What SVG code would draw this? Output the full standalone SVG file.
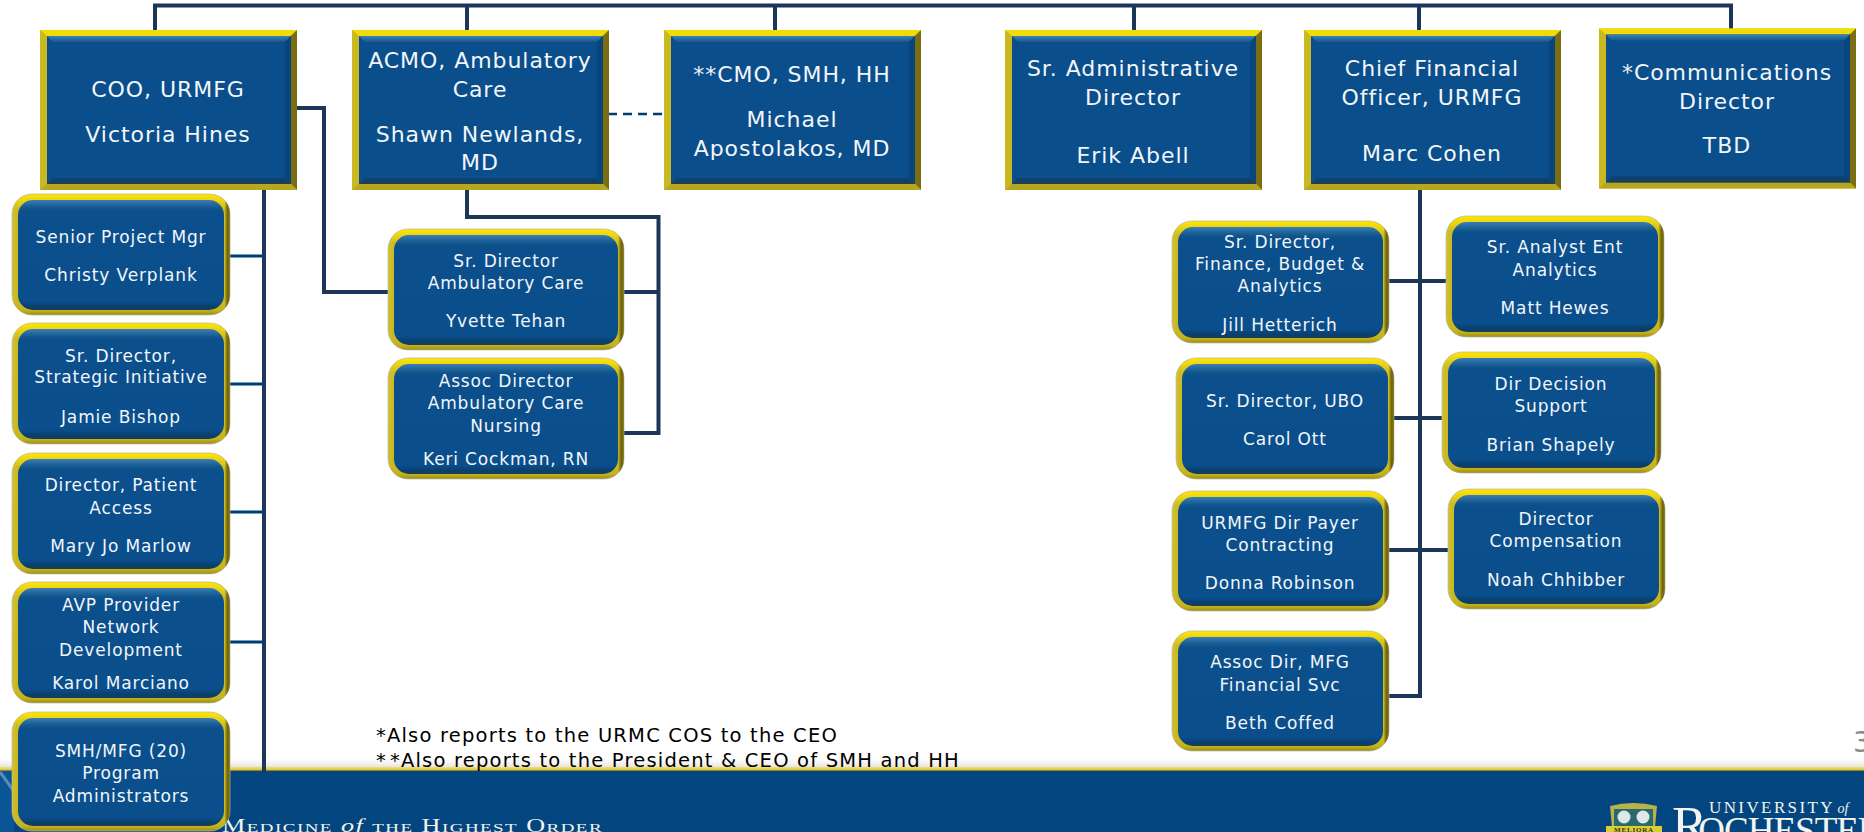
<svg xmlns="http://www.w3.org/2000/svg" width="1864" height="832" viewBox="0 0 1864 832">
<defs>
<linearGradient id="gold" x1="0" y1="0" x2="0" y2="1"><stop offset="0" stop-color="#ffe600"/><stop offset=".05" stop-color="#ecd612"/><stop offset=".12" stop-color="#cdbb22"/><stop offset=".9" stop-color="#c9b81e"/><stop offset=".96" stop-color="#c4b31c"/><stop offset="1" stop-color="#9c8e18"/></linearGradient>
<linearGradient id="side" x1="0" y1="0" x2="1" y2="0"><stop offset="0" stop-color="#fff" stop-opacity=".1"/><stop offset=".02" stop-color="#fff" stop-opacity="0"/><stop offset=".975" stop-color="#000" stop-opacity="0"/><stop offset=".99" stop-color="#2a2400" stop-opacity=".6"/><stop offset="1" stop-color="#2a2400" stop-opacity=".35"/></linearGradient>
<linearGradient id="blue" x1="0" y1="0" x2="0" y2="1"><stop offset="0" stop-color="#3a7cb8"/><stop offset=".07" stop-color="#14598f"/><stop offset=".1" stop-color="#0b4f8c"/><stop offset=".92" stop-color="#0a4e8b"/><stop offset=".97" stop-color="#083f70"/><stop offset="1" stop-color="#1d3d4e"/></linearGradient>
<linearGradient id="hi" x1="0" y1="0" x2="0" y2="1"><stop offset="0" stop-color="#3f80ba"/><stop offset="1" stop-color="#14598f"/></linearGradient>
<linearGradient id="lo" x1="0" y1="0" x2="0" y2="1"><stop offset="0" stop-color="#08427a"/><stop offset="1" stop-color="#1e3f4e"/></linearGradient>
<linearGradient id="fade" x1="0" y1="0" x2="0" y2="1"><stop offset="0" stop-color="#f2eeee" stop-opacity="0"/><stop offset="1" stop-color="#e4dfdc"/></linearGradient>
<linearGradient id="rule" x1="0" y1="0" x2="0" y2="1"><stop offset="0" stop-color="#efe07a"/><stop offset=".6" stop-color="#e6cf3c"/><stop offset="1" stop-color="#6c6a2a"/></linearGradient>
<g id="sq">
<rect width="257" height="160" fill="#c9b81f"/>
<path d="M0 0H257L250 6H7Z" fill="#f2dc06"/>
<path d="M257 0V160L251 154V6Z" fill="#7a6d12"/>
<path d="M0 160H257L251 154H7Z" fill="#b7a71e"/>
<rect x="7" y="6" width="244" height="148" fill="#0a4e8b"/>
<path d="M7 6H251L245 12H13Z" fill="url(#hi)"/>
<path d="M251 6L245 12V148L251 154Z" fill="#08457d"/>
<path d="M7 154H251L245 148H13Z" fill="url(#lo)"/>
</g>
</defs>
<style>
text{font-family:"DejaVu Sans","Liberation Sans",sans-serif;fill:#f2f6fa;text-anchor:middle}
.o{fill:url(#gold);stroke:#b8b4a0;stroke-width:.7}
.s{fill:url(#side)}
.i{fill:url(#blue)}
.big{font-size:22px;letter-spacing:.95px}
.sm{font-size:17px;letter-spacing:.85px}
.c{fill:none;stroke:#1b3656;stroke-width:4}
.b{fill:none;stroke:#003d73;stroke-width:3}
.note{font-size:19.5px;letter-spacing:1.2px;fill:#000;text-anchor:start}
.ser{font-family:"Liberation Serif",serif;fill:#f4f4ee;text-anchor:start}
</style>
<rect width="1864" height="832" fill="#fff"/>
<g id="footer">
<rect x="0" y="758" width="1864" height="10" fill="url(#fade)"/>
<rect x="0" y="767" width="1864" height="65" fill="#03467f"/>
<rect x="0" y="767" width="1864" height="4" fill="url(#rule)"/>
<path d="M0 771H14V832H0Z" fill="#0a5596"/>
<path d="M0 772L13 790" fill="none" stroke="#5d8db5" stroke-width="3"/>
<text class="ser" x="222" y="832" textLength="381" lengthAdjust="spacingAndGlyphs" style="font-size:18px;letter-spacing:1px;font-variant:small-caps">Medicine <tspan font-style="italic" style="font-variant:normal">of</tspan> the Highest Order</text>
<g id="crest"><path d="M1610 806Q1633 800 1657 806L1655 827H1612Z" fill="#b9b24a"/><rect x="1614" y="809" width="39" height="18" fill="#2a6a6a"/><circle cx="1624" cy="817" r="6.500" fill="#dfe8e8"/><circle cx="1643" cy="817" r="6.500" fill="#dfe8e8"/><rect x="1606" y="826" width="56" height="6" fill="#d8d030"/><text x="1634" y="832" style="font-family:'Liberation Serif',serif;font-size:7px;font-weight:bold;letter-spacing:.8px;fill:#35371a">MELIORA</text></g>
<text class="ser" x="1709" y="813" style="font-size:17px;letter-spacing:2.400px">UNIVERSITY<tspan font-style="italic" font-size="14" dx="-1" style="letter-spacing:0"> of</tspan></text>
<text class="ser" x="1672" y="843" style="font-size:53px;font-variant:small-caps;letter-spacing:-1px">R<tspan dx="-8">ochester</tspan></text>
</g>
<text x="1853" y="752" style="text-anchor:start;font-size:29px;fill:#8a8a8a">3</text>
<g id="connectors">
<path class="c" d="M155 30V5.500H1731V30M467 5.500V30M775 5.500V30M1134 5.500V30M1419 5.500V30"/>
<path class="c" d="M264 190V772"/>
<path class="b" d="M230 256H266M230 384H264M230 512H264M230 642H264"/>
<path class="c" d="M296 108H324V292H388"/>
<path class="c" d="M467 190V217H658.500V433H622M624 292H658.500"/>
<path d="M608 114H664" fill="none" stroke="#003d73" stroke-width="2.500" stroke-dasharray="9 6"/>
<path class="c" d="M1420 190V696H1389M1389 281H1446M1394 418H1442M1389 550H1448"/>
</g>
<g id="coo"><use href="#sq" x="40" y="30"/><text class="big" x="168" y="97">COO, URMFG</text><text class="big" x="168" y="142">Victoria Hines</text></g>
<g id="acmo"><use href="#sq" x="352" y="30"/><text class="big" x="480" y="68">ACMO, Ambulatory</text><text class="big" x="480" y="97">Care</text><text class="big" x="480" y="142">Shawn Newlands,</text><text class="big" x="480" y="170">MD</text></g>
<g id="cmo"><use href="#sq" x="664" y="30"/><text class="big" x="792" y="82">**CMO, SMH, HH</text><text class="big" x="792" y="127">Michael</text><text class="big" x="792" y="156">Apostolakos, MD</text></g>
<g id="admin"><use href="#sq" x="1005" y="30"/><text class="big" x="1133" y="76">Sr. Administrative</text><text class="big" x="1133" y="105">Director</text><text class="big" x="1133" y="163">Erik Abell</text></g>
<g id="cfo"><use href="#sq" x="1304" y="30"/><text class="big" x="1432" y="76">Chief Financial</text><text class="big" x="1432" y="105">Officer, URMFG</text><text class="big" x="1432" y="161">Marc Cohen</text></g>
<g id="comm"><use href="#sq" x="1599" y="28.500"/><text class="big" x="1727" y="80">*Communications</text><text class="big" x="1727" y="109">Director</text><text class="big" x="1727" y="153">TBD</text></g>
<g id="verplank"><rect class="o" x="12" y="194" width="218" height="121" rx="20"/><rect class="s" x="12" y="194" width="218" height="121" rx="20"/><rect class="i" x="18" y="200" width="206" height="110" rx="15"/><text class="sm" x="121" y="243">Senior Project Mgr</text><text class="sm" x="121" y="281">Christy Verplank</text></g>
<g id="bishop"><rect class="o" x="12" y="323" width="218" height="121" rx="20"/><rect class="s" x="12" y="323" width="218" height="121" rx="20"/><rect class="i" x="18" y="329" width="206" height="110" rx="15"/><text class="sm" x="121" y="362">Sr. Director,</text><text class="sm" x="121" y="383">Strategic Initiative</text><text class="sm" x="121" y="423">Jamie Bishop</text></g>
<g id="marlow"><rect class="o" x="12" y="453" width="218" height="121" rx="20"/><rect class="s" x="12" y="453" width="218" height="121" rx="20"/><rect class="i" x="18" y="459" width="206" height="110" rx="15"/><text class="sm" x="121" y="491">Director, Patient</text><text class="sm" x="121" y="514">Access</text><text class="sm" x="121" y="552">Mary Jo Marlow</text></g>
<g id="marciano"><rect class="o" x="12" y="582" width="218" height="121" rx="20"/><rect class="s" x="12" y="582" width="218" height="121" rx="20"/><rect class="i" x="18" y="588" width="206" height="110" rx="15"/><text class="sm" x="121" y="611">AVP Provider</text><text class="sm" x="121" y="633">Network</text><text class="sm" x="121" y="656">Development</text><text class="sm" x="121" y="689">Karol Marciano</text></g>
<g id="smh"><rect class="o" x="12" y="712" width="218" height="119" rx="20"/><rect class="s" x="12" y="712" width="218" height="119" rx="20"/><rect class="i" x="18" y="718" width="206" height="108" rx="15"/><text class="sm" x="121" y="757">SMH/MFG (20)</text><text class="sm" x="121" y="779">Program</text><text class="sm" x="121" y="802">Administrators</text></g>
<g id="tehan"><rect class="o" x="388" y="229" width="236" height="121" rx="20"/><rect class="s" x="388" y="229" width="236" height="121" rx="20"/><rect class="i" x="394" y="235" width="224" height="110" rx="15"/><text class="sm" x="506" y="267">Sr. Director</text><text class="sm" x="506" y="289">Ambulatory Care</text><text class="sm" x="506" y="327">Yvette Tehan</text></g>
<g id="cockman"><rect class="o" x="388" y="358" width="236" height="121" rx="20"/><rect class="s" x="388" y="358" width="236" height="121" rx="20"/><rect class="i" x="394" y="364" width="224" height="110" rx="15"/><text class="sm" x="506" y="387">Assoc Director</text><text class="sm" x="506" y="409">Ambulatory Care</text><text class="sm" x="506" y="432">Nursing</text><text class="sm" x="506" y="465">Keri Cockman, RN</text></g>
<g id="hetterich"><rect class="o" x="1172" y="221" width="217" height="122" rx="20"/><rect class="s" x="1172" y="221" width="217" height="122" rx="20"/><rect class="i" x="1178" y="227" width="205" height="111" rx="15"/><text class="sm" x="1280" y="248">Sr. Director,</text><text class="sm" x="1280" y="270">Finance, Budget &amp;</text><text class="sm" x="1280" y="292">Analytics</text><text class="sm" x="1280" y="331">Jill Hetterich</text></g>
<g id="hewes"><rect class="o" x="1446" y="216" width="218" height="121" rx="20"/><rect class="s" x="1446" y="216" width="218" height="121" rx="20"/><rect class="i" x="1452" y="222" width="206" height="110" rx="15"/><text class="sm" x="1555" y="253">Sr. Analyst Ent</text><text class="sm" x="1555" y="276">Analytics</text><text class="sm" x="1555" y="314">Matt Hewes</text></g>
<g id="ott"><rect class="o" x="1176" y="358" width="218" height="121" rx="20"/><rect class="s" x="1176" y="358" width="218" height="121" rx="20"/><rect class="i" x="1182" y="364" width="206" height="110" rx="15"/><text class="sm" x="1285" y="407">Sr. Director, UBO</text><text class="sm" x="1285" y="445">Carol Ott</text></g>
<g id="shapely"><rect class="o" x="1442" y="352" width="219" height="121" rx="20"/><rect class="s" x="1442" y="352" width="219" height="121" rx="20"/><rect class="i" x="1448" y="358" width="207" height="110" rx="15"/><text class="sm" x="1551" y="390">Dir Decision</text><text class="sm" x="1551" y="412">Support</text><text class="sm" x="1551" y="451">Brian Shapely</text></g>
<g id="robinson"><rect class="o" x="1172" y="491" width="217" height="120" rx="20"/><rect class="s" x="1172" y="491" width="217" height="120" rx="20"/><rect class="i" x="1178" y="497" width="205" height="109" rx="15"/><text class="sm" x="1280" y="529">URMFG Dir Payer</text><text class="sm" x="1280" y="551">Contracting</text><text class="sm" x="1280" y="589">Donna Robinson</text></g>
<g id="chhibber"><rect class="o" x="1448" y="489" width="217" height="120" rx="20"/><rect class="s" x="1448" y="489" width="217" height="120" rx="20"/><rect class="i" x="1454" y="495" width="205" height="109" rx="15"/><text class="sm" x="1556" y="525">Director</text><text class="sm" x="1556" y="547">Compensation</text><text class="sm" x="1556" y="586">Noah Chhibber</text></g>
<g id="coffed"><rect class="o" x="1172" y="631" width="217" height="120" rx="20"/><rect class="s" x="1172" y="631" width="217" height="120" rx="20"/><rect class="i" x="1178" y="637" width="205" height="109" rx="15"/><text class="sm" x="1280" y="668">Assoc Dir, MFG</text><text class="sm" x="1280" y="691">Financial Svc</text><text class="sm" x="1280" y="729">Beth Coffed</text></g>
<g id="notes"><text class="note" x="376" y="742">*Also reports to the URMC COS to the CEO</text><text class="note" x="376" y="767">*<tspan dx="3">*</tspan>Also reports to the President &amp; CEO of SMH and HH</text></g>
</svg>
